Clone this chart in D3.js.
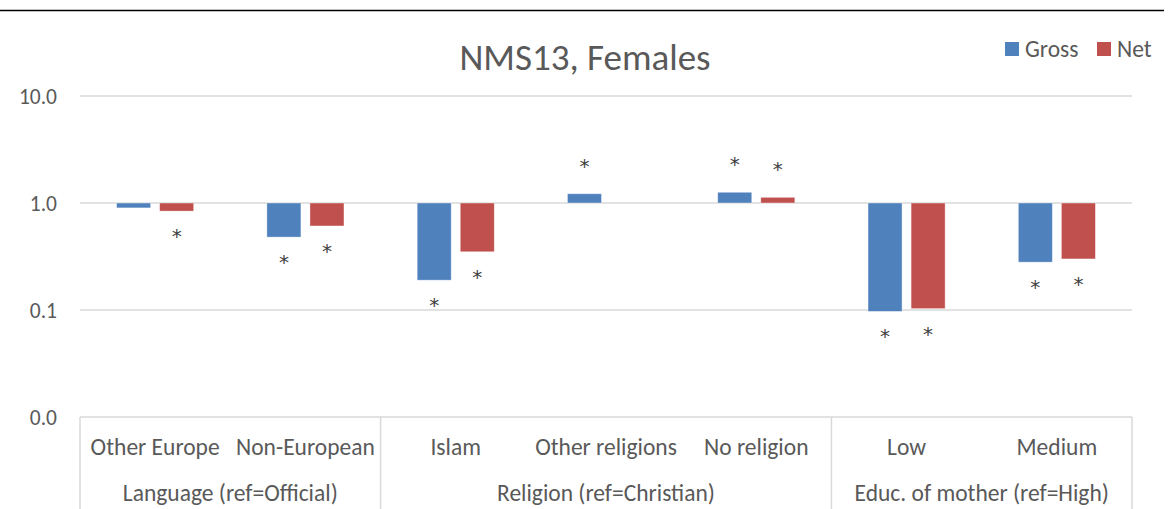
<!DOCTYPE html>
<html>
<head>
<meta charset="utf-8">
<script src="https://cdn.jsdelivr.net/npm/d3@7"></script>
<style>
    body { margin: 0; background: #fff; }
    svg text { font-family: Carlito, Calibri, Lato, "Open Sans", sans-serif; fill: #595959; }
</style>
</head>
<body>
<div id="chart"></div>
<script>
// categories (lower level) and their groups (upper level)
var categories = ["Other Europe", "Non-European", "Islam", "Other religions", "No religion", "Low", "Medium"];
var groups = ["Language (ref=Official)", "Religion (ref=Christian)", "Educ. of mother (ref=High)"];
var groupSizes = [2, 3, 2];

var series = ["Gross", "Net"];
var grossValues = [0.90, 0.48, 0.19, 1.22, 1.26, 0.097, 0.28];
var netValues = [0.84, 0.61, 0.35, null, 1.13, 0.103, 0.30];
// significance marks (*)
var grossStars = [false, true, true, true, true, true, true];
var netStars = [true, true, true, false, true, true, true];

var yTicks = [10, 1, 0.1, 0.01];
var colors = ["#4F81BD", "#C0504D"];

var width = 1168, height = 509;
var margin = {top: 96, right: 36, bottom: 92, left: 80};

var svg = d3.select("#chart").append("svg")
    .attr("width", width)
    .attr("height", height);

// thin black rule across the top
svg.append("line")
    .attr("x1", 0).attr("x2", 1164)
    .attr("y1", 10.5).attr("y2", 10.5)
    .attr("stroke", "#000").attr("stroke-width", 1.5);

var y = d3.scaleLog()
    .domain([0.01, 10])
    .range([height - margin.bottom, margin.top]);

var x = d3.scaleBand()
    .domain(categories)
    .range([margin.left, width - margin.right])
    .paddingInner(0).paddingOuter(0);

var xs = d3.scaleBand()
    .domain(series)
    .range([0, x.bandwidth()])
    .paddingInner(0.21)
    .paddingOuter(0.85);

// gridlines
svg.append("g").selectAll("line")
    .data(yTicks.slice(0, 3))
    .enter().append("line")
    .attr("x1", margin.left).attr("x2", width - margin.right)
    .attr("y1", function(d) { return y(d); })
    .attr("y2", function(d) { return y(d); })
    .attr("stroke", "#d9d9d9").attr("stroke-width", 1.5);

// y tick labels
svg.append("g").selectAll("text")
    .data(yTicks)
    .enter().append("text")
    .attr("x", 57)
    .attr("y", function(d) { return y(d); })
    .attr("dy", "0.35em")
    .attr("text-anchor", "end")
    .style("font-size", "21.5px")
    .text(function(d) { return d3.format(".1f")(d); });

// bars
var rows = [];
categories.forEach(function(c, i) {
    rows.push({cat: c, s: "Gross", v: grossValues[i], star: grossStars[i]});
    rows.push({cat: c, s: "Net", v: netValues[i], star: netStars[i]});
});
rows = rows.filter(function(d) { return d.v !== null; });

svg.append("g").selectAll("rect")
    .data(rows)
    .enter().append("rect")
    .attr("x", function(d) { return x(d.cat) + xs(d.s); })
    .attr("width", xs.bandwidth())
    .attr("y", function(d) { return Math.min(y(d.v), y(1)); })
    .attr("height", function(d) { return Math.abs(y(d.v) - y(1)); })
    .attr("fill", function(d) { return colors[series.indexOf(d.s)]; })
    .attr("stroke", "#fff").attr("stroke-opacity", 0.5).attr("stroke-width", 0.75);

// stars
svg.append("g").selectAll("text")
    .data(rows.filter(function(d) { return d.star; }))
    .enter().append("text")
    .attr("x", function(d) { return x(d.cat) + xs(d.s) + xs.bandwidth() / 2; })
    .attr("y", function(d) { return d.v < 1 ? y(d.v) + 32 : y(d.v) - 21; })
    .attr("text-anchor", "middle")
    .style("font-family", "'DejaVu Sans', sans-serif")
    .style("font-size", "20px")
    .style("fill", "#404040")
    .text("*");

// category axis box
var axisTop = y(0.01);
var axisG = svg.append("g");
axisG.append("line")
    .attr("x1", margin.left).attr("x2", width - margin.right)
    .attr("y1", axisTop).attr("y2", axisTop)
    .attr("stroke", "#d9d9d9").attr("stroke-width", 1.5);

var bounds = [0];
groupSizes.forEach(function(n, i) { bounds.push(bounds[i] + n); });
bounds.forEach(function(b) {
    var bx = b < categories.length ? x(categories[b]) : x.range()[1];
    axisG.append("line")
        .attr("x1", bx).attr("x2", bx)
        .attr("y1", axisTop).attr("y2", height)
        .attr("stroke", "#d9d9d9").attr("stroke-width", 1.5);
});

axisG.selectAll(".cat")
    .data(categories)
    .enter().append("text")
    .attr("class", "cat")
    .attr("x", function(d) { return x(d) + x.bandwidth() / 2; })
    .attr("y", 447)
    .attr("dy", "0.35em")
    .attr("text-anchor", "middle")
    .style("font-size", "23.5px")
    .text(function(d) { return d; });

axisG.selectAll(".grp")
    .data(groups)
    .enter().append("text")
    .attr("class", "grp")
    .attr("x", function(d, i) {
        var a = x(categories[bounds[i]]);
        var b = bounds[i + 1] < categories.length ? x(categories[bounds[i + 1]]) : x.range()[1];
        return (a + b) / 2;
    })
    .attr("y", 493)
    .attr("dy", "0.35em")
    .attr("text-anchor", "middle")
    .style("font-size", "23.5px")
    .text(function(d) { return d; });

// title
svg.append("text")
    .attr("x", 585)
    .attr("y", 57)
    .attr("dy", "0.35em")
    .attr("text-anchor", "middle")
    .style("font-size", "37px")
    .text("NMS13, Females");

// legend
var legendX = [1005, 1097];
var legend = svg.append("g").selectAll("g")
    .data(series)
    .enter().append("g")
    .attr("transform", function(d, i) { return "translate(" + legendX[i] + ",42)"; });

legend.append("rect")
    .attr("width", 14).attr("height", 14)
    .attr("fill", function(d, i) { return colors[i]; });

legend.append("text")
    .attr("x", 20).attr("y", 7)
    .attr("dy", "0.35em")
    .style("font-size", "23.5px")
    .text(function(d) { return d; });
</script>
</body>
</html>
